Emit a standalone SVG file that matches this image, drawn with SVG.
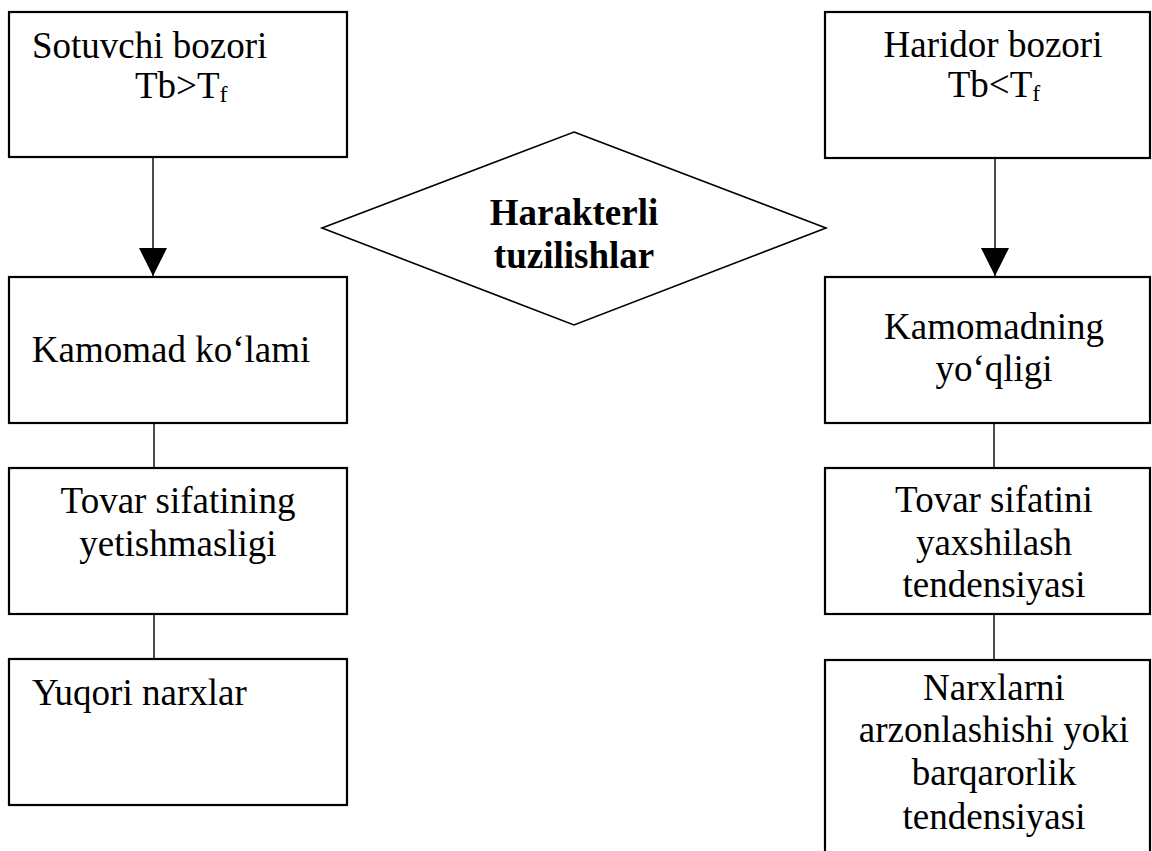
<svg xmlns="http://www.w3.org/2000/svg" width="1152" height="851" viewBox="0 0 1152 851">
  <style>
    .box { fill: #ffffff; stroke: #000000; stroke-width: 2.2; }
    .dia { fill: #ffffff; stroke: #000000; stroke-width: 1.6; }
    .txt { font-family: "Liberation Serif", "Times New Roman", serif; font-size: 37px; fill: #000000; }
    .mid { text-anchor: middle; }
    .bold { font-weight: bold; }
    .sub { font-size: 24px; }
    .link { stroke: #000000; stroke-width: 1.4; fill: none; }
  </style>
  <defs>
    <marker id="head" markerUnits="userSpaceOnUse" viewBox="0 -15 30 30" refX="28" refY="0" markerWidth="30" markerHeight="30" orient="auto">
      <path d="M0,-14 L28,0 L0,14 Z" fill="#000000"/>
    </marker>
  </defs>
  <rect width="1152" height="851" fill="#ffffff"/>

  <!-- connectors -->
  <g id="connectors">
    <line class="link" x1="153" y1="157" x2="153" y2="276" marker-end="url(#head)"/>
    <line class="link" x1="995" y1="156" x2="995" y2="276" marker-end="url(#head)"/>
    <line class="link" x1="154" y1="423" x2="154" y2="468"/>
    <line class="link" x1="154" y1="614" x2="154" y2="659"/>
    <line class="link" x1="994" y1="423" x2="994" y2="468"/>
    <line class="link" x1="994" y1="614" x2="994" y2="660"/>
  </g>

  <!-- left column -->
  <g id="sotuvchi-bozori">
    <rect class="box" x="9" y="12" width="338" height="145"/>
    <text class="txt" x="32" y="58">Sotuvchi bozori</text>
    <text class="txt" x="135" y="98">Tb&gt;T<tspan class="sub" dy="4">f</tspan></text>
  </g>
  <g id="kamomad-kolami">
    <rect class="box" x="9" y="277" width="338" height="146"/>
    <text class="txt mid" x="171" y="362">Kamomad ko‘lami</text>
  </g>
  <g id="tovar-sifatining">
    <rect class="box" x="9" y="468" width="338" height="146"/>
    <text class="txt mid" x="178" y="513">Tovar sifatining</text>
    <text class="txt mid" x="178" y="556">yetishmasligi</text>
  </g>
  <g id="yuqori-narxlar">
    <rect class="box" x="9" y="659" width="338" height="146"/>
    <text class="txt" x="32" y="705">Yuqori narxlar</text>
  </g>

  <!-- centre -->
  <g id="harakterli-tuzilishlar">
    <polygon class="dia" points="574,132 826,228 574,325 322,228"/>
    <text class="txt mid bold" x="574" y="225">Harakterli</text>
    <text class="txt mid bold" x="574" y="268">tuzilishlar</text>
  </g>

  <!-- right column -->
  <g id="haridor-bozori">
    <rect class="box" x="825" y="12" width="325" height="146"/>
    <text class="txt mid" x="993" y="57">Haridor bozori</text>
    <text class="txt mid" x="994" y="97">Tb&lt;T<tspan class="sub" dy="4">f</tspan></text>
  </g>
  <g id="kamomadning-yoqligi">
    <rect class="box" x="825" y="277" width="325" height="146"/>
    <text class="txt mid" x="994" y="339">Kamomadning</text>
    <text class="txt mid" x="994" y="381">yo‘qligi</text>
  </g>
  <g id="tovar-sifatini">
    <rect class="box" x="825" y="468" width="325" height="146"/>
    <text class="txt mid" x="994" y="512">Tovar sifatini</text>
    <text class="txt mid" x="994" y="555">yaxshilash</text>
    <text class="txt mid" x="994" y="597">tendensiyasi</text>
  </g>
  <g id="narxlarni-arzonlashishi">
    <rect class="box" x="825" y="660" width="325" height="200"/>
    <text class="txt mid" x="994" y="700">Narxlarni</text>
    <text class="txt mid" x="994" y="742">arzonlashishi yoki</text>
    <text class="txt mid" x="994" y="785">barqarorlik</text>
    <text class="txt mid" x="994" y="829">tendensiyasi</text>
  </g>
</svg>
